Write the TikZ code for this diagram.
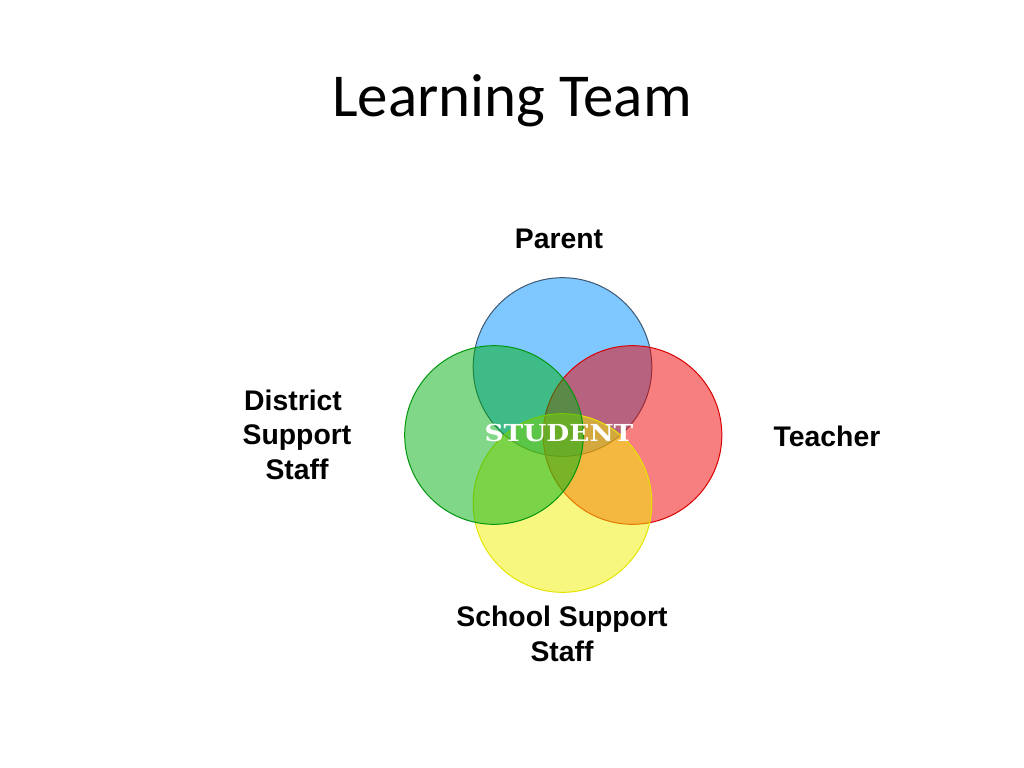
\documentclass[tikz,border=0pt]{standalone}
\usepackage{fontspec}
\setmainfont{Liberation Sans}
\newfontfamily\titlefont{Carlito}
\newfontfamily\studentfont{DejaVu Serif}
\definecolor{parentblue}{RGB}{0,144,255}
\definecolor{parentedge}{RGB}{60,88,115}
\definecolor{districtgreen}{RGB}{0,176,16}
\definecolor{teacherred}{RGB}{240,0,0}
\definecolor{schoolyellow}{RGB}{240,240,0}

\begin{document}
\begin{tikzpicture}[x=0.0248cm, y=-0.0248cm,
    ring/.style={circle, minimum size=4.43cm, inner sep=0pt, line width=0.7pt, fill opacity=0.5},
    label/.style={font=\fontsize{20}{24}\selectfont\bfseries, align=center, inner sep=0pt}]
    \useasboundingbox (0,0) rectangle (1024,768);

    % Title
    \node[font=\titlefont\fontsize{43}{50}\selectfont, anchor=base, inner sep=0pt] (title) at (512,117) {Learning Team};

    % Circles
    \node[ring, draw=parentedge, fill=parentblue] (parent) at (562.5,367) {};
    \node[ring, draw=teacherred!90!black, fill=teacherred] (teacher) at (632.5,435) {};
    \node[ring, draw=schoolyellow!95!black, fill=schoolyellow] (school) at (562.5,503) {};
    \node[ring, draw=districtgreen!85!black, fill=districtgreen] (district) at (494,435) {};

    % Centre
    \node[font=\studentfont\fontsize{16.5}{18}\selectfont\bfseries, text=white, xscale=1.13, anchor=base, inner sep=0pt] (student) at (559,441) {STUDENT};

    % Labels
    \node[label, anchor=base] (parentlabel) at (559,248) {Parent};
    \node[label, anchor=base] (teacherlabel) at (827,446) {Teacher};
    \node[label, anchor=base] (districtlabel) at (297,479) {District\hphantom{\ }\\Support\\Staff};
    \node[label, anchor=base] (schoollabel) at (562,661) {School Support\\Staff};
\end{tikzpicture}
\end{document}
